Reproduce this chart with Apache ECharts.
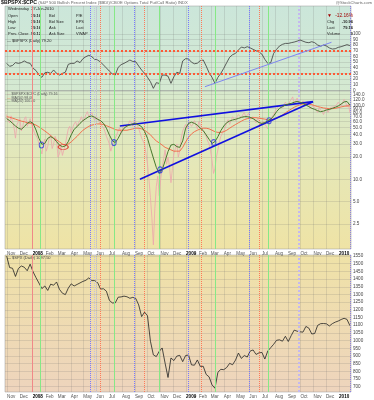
<!DOCTYPE html>
<html><head><meta charset="utf-8">
<script src="https://cdn.jsdelivr.net/npm/echarts@6/dist/echarts.min.js"></script>
<style>html,body{margin:0;padding:0;background:#fff}#c{width:374px;height:400px}</style>
</head><body><div id="c"></div>
<script>
// ---- data (weekly, Wednesdays from 2007-10-31 to 2010-01-27) ----
const firstWeek = '2007-10-31';
const bpspx = [47.7,42.4,44,49,47.7,49,52,49,47.7,39,
 35,27,23,31,32,30,36,30,27,30,
 32,46,47.7,47.7,52,49,56,59.5,62,59.5,
 55,53.6,50,44.8,39.5,34,29,27,40.6,45.4,
 47.7,50.6,53.6,51,50.6,43,35.9,30,23,15.2,
 3.5,13.5,12.3,27,27,25,12.3,24,32,30,
 52,56,55.5,49.7,47,48,52.5,53.6,43,31,
 23,12.3,23,30,39,49,58.5,63,65.4,71.3,
 76.6,75,77.2,75,72.5,70,67.8,64,54.8,47.7,
 48.8,65.4,72.5,78.4,81.3,83,83,84.3,85.4,87,
 89,87,85,84.3,86,84.3,80.2,78,80.2,78.4,
 75,73,73.6,76,77.2,79,80.8,79.2];
// ratio: weekly (Wednesday) readings and the readings half a week later
const ratio = [75,58,68,36,60,45,65,52,66,48,
 40,30,22,35,28,40,30,34,22,21,
 30,48,42,56,52,63,60,75,70,80,
 62,68,55,50,38,30,28,36,45,42,
 55,50,62,52,60,48,36,30,16,5.7,
 1.3,8,6,14,25,20,9,22,30,24,
 45,55,60,52,62,48,55,45,38,30,
 18,14,25,38,45,58,55,70,62,75,
 68,80,72,65,70,58,62,52,58,48,
 66,75,90,100,92,110,98,120,104,125,
 100,115,96,105,85,95,80,88,75,92,
 85,100,90,110,98,120,95,79.16];
const ratioMid = [62,72,50,55,66,52,70,58,55,42,
 36,26,30,24,36,26,38,20,28,25,
 38,52,50,60,58,70,66,82,74,70,
 72,60,58,44,34,24,33,40,50,48,
 58,56,58,64,54,42,34,22,10,3,
 4,11,10,19,16,15,14,26,20,36,
 50,48,58,56,55,60,50,42,33,24,
 12,20,32,42,50,64,62,66,70,72,
 75,70,78,62,64,66,55,60,52,56,
 70,82,95,106,100,104,112,130,114,110,
 108,102,112,90,100,86,92,82,84,80,
 94,95,102,104,108,112,105];
const ma50 = [70,69,67,65,63,61,60,58,57,56,
 54,51,48,45,42,39,36,34,32,30,
 29,30,32,35,38,42,46,49,52,54,
 55,56,56,55,53,51,49,47,46,46,
 46,46,47,48,49,49,48,46,43,40,
 36,33,31,29,27,26,25,24,24,24,
 27,32,37,41,44,46,48,49,49,48,
 46,44,43,43,44,46,49,52,55,58,
 61,64,66,67,68,68,67,66,65,64,
 64,65,67,70,74,79,84,89,94,98,
 102,104,105,104,102,99,96,94,92,91,
 90,90,91,93,95,97,98,98.08];
const ma20 = [66,62,57,52.5,49,47.4,51.4,57,60,57,
 46.4,35.8,29.7,30.6,35.8,37.7,35.8,32.3,29,27.6,
 28.2,32.3,39.8,47.4,51.4,57,62,66,70.2,71.8,
 68.7,64.7,62,57,49,39.8,33.3,31.3,35.8,42.7,
 49,52.5,54.2,56,57,54.2,51.4,44.3,35.8,26.2,
 19.4,14.5,12,13.4,17.7,23.7,29,29.7,27.6,27,
 33,49,57,59,57,54,49,45.5,39.8,34.7,
 30.6,32.3,37.7,45.5,52.5,58.3,61.3,63.3,64.7,66.4,
 68.7,70.2,70.2,68.7,66,62,58.3,57,58.3,62,
 64.7,71.8,82,91,95.8,101,104,106,110,112.7,
 110,106,101,95.8,91,88,84.6,82,83.5,86.4,
 88,91,94,97.8,104,111,112.7,100.4];
const spx = [1549,1475,1470,1417,1469,1485,1477,1454,1497,
 1447,1409,1374,1338,1355,1326,1367,1360,1381,1333,1308,1299,1341,1369,1355,1365,1375,1385,1392,1408,1390,1390,1377,1335,1337,1321,1262,1245,1245,1282,1284,1289,1285,1275,1281,1274,1232,1156,1185,1161,996,907,896,930,952,853,760,887,870,899,904,863,903,
 906,842,840,874,832,833,780,764,712,690,794,813,811,825,852,843,873,919,884,903,893,932,939,910,920,923,880,932,954,976,1002,1005,996,1028,994,1033,1068,1061,1057,1055,1092,1081,1043,1046,1099,1110,1111,1109,1095,1110,1120,1127,
 1137,1145,1138,1097];

const bpTicks = [0,10,20,30,40,50,60,70,80,90,100];
const ratioTicks = [2.5,5,10,20,30,40,50,60,70,80,90,100,120,140];
const spxTicks = [700,750,800,850,900,950,1000,1050,1100,1150,1200,1250,1300,1350,1400,1450,1500,1550];
const monthNames = ['Jan','Feb','Mar','Apr','May','Jun','Jul','Aug','Sep','Oct','Nov','Dec'];

// annotation lines (dates)
const redSolidDates = ['2008-01-01'];
const greenDates = ['2008-01-20','2008-07-13','2008-10-29','2009-03-11','2009-07-16'];
const blueDottedDates = ['2008-05-17','2008-08-30','2009-01-06','2009-05-31'];
const redDottedDates = ['2008-06-10','2008-09-23','2009-02-06','2009-06-24'];
const greyDottedDates = ['2008-05-27','2008-06-01'];
const lilacDates = ['2009-09-28'];
const purpleDates = ['2010-01-27'];
const trendUpper = [['2008-07-27',52.5],['2009-10-31',112]];
const trendLower = [['2008-09-13',10],['2009-10-31',112]];
const trendBp = [['2009-02-15',6.4],['2009-12-14',85]];
const ellipses = [['2008-01-22',29.1,'blue'],['2008-03-14',27.3,'red'],['2008-07-13',31.3,'blue'],
  ['2008-10-31',13.4,'blue'],['2009-03-08',31.3,'blue'],['2009-07-18',61.9,'blue']];

// ---- build ----
const DAY = 864e5;
const d = s => { const [y,m,dd] = s.split('-').map(Number); return Date.UTC(y, m-1, dd); };
const w0 = d(firstWeek);
const weekDates = bpspx.map((_, i) => w0 + i*7*DAY);
const ser = arr => arr.map((v,i) => [weekDates[i], v]);
const ratioSeries = [];
ratio.forEach((v,i) => { ratioSeries.push([weekDates[i], v]); if (i < ratioMid.length) ratioSeries.push([weekDates[i] + 3.5*DAY, ratioMid[i]]); });
const tMin = Date.UTC(2007,9,27), tMax = Date.UTC(2010,0,29,14);
const monthTicks = [];
for (let y=2007, m=10; y<2010 || (y===2010 && m===0); ) { monthTicks.push(Date.UTC(y,m,1)); m++; if (m>11){m=0;y++;} }

const FONT = '"Liberation Sans", Arial, sans-serif';
const vline = (dates, color, type, width) => dates.map(s => ({xAxis: d(s), lineStyle:{color, type, width}}));
const vlines = [].concat(
  vline(redSolidDates,'#f08888','solid',1),
  vline(greenDates,'#86e886','solid',1),
  vline(blueDottedDates,'#7878ff','dotted',1),
  vline(redDottedDates,'#ff7858','dotted',1),
  vline(greyDottedDates,'#c4c4dc','dotted',1),
  vline(lilacDates,'#c4b8f0','dotted',2),
  vline(purpleDates,'#8a80e8','dotted',1)
);
const mlBase = {symbol:['none','none'], silent:true, animation:false, label:{show:false}, emphasis:{disabled:true}};
const seg = p => [{coord:[d(p[0][0]), p[0][1]]}, {coord:[d(p[1][0]), p[1][1]]}];

const xAx = (gi, showLabel) => ({
  type:'value', gridIndex:gi, min:tMin, max:tMax,
  axisLine:{show:false}, axisTick:{show:false, customValues: monthTicks},
  splitLine:{show:true, lineStyle:{color:'rgba(110,110,110,0.18)', width:1}},
  axisLabel:{show:showLabel, customValues: monthTicks, margin:2, align:'left', fontSize:4.6, fontFamily:FONT, color:'#555',
    formatter: v => { const t = new Date(v); const m = t.getUTCMonth(); return m===0 ? '{y|'+t.getUTCFullYear()+'}' : monthNames[m]; },
    rich:{y:{fontWeight:'bold', color:'#000', fontSize:4.6, fontFamily:FONT}}}
});
const yLab = {fontSize:4.6, fontFamily:FONT, color:'#444', margin:2};
const grad = stops => new echarts.graphic.LinearGradient(0,0,0,1, stops.map((c,i)=>({offset:i/(stops.length-1), color:c})));

const txt = (x,y,text,opt={}) => ({type:'text', x, y, silent:true, style:Object.assign({text, font:(opt.bold?'bold ':'')+(opt.size||4)+'px '+FONT, fill:opt.color||'#222', textAlign:opt.align||'left', align:opt.align||'left', textVerticalAlign:'middle', verticalAlign:'middle'}, opt.rich?{rich:opt.rich}:{})});

const option = {
  animation:false,
  backgroundColor:'#fff',
  grid:[
    {left:5, right:23, top:6, height:85, show:true, backgroundColor:grad(['#cbe6da','#d5e9d1']), borderColor:'#999', borderWidth:0.5},
    {left:5, right:23, top:91, height:158, show:true, backgroundColor:grad(['#d7e9cc','#e6e7b6','#efe3a5']), borderColor:'#999', borderWidth:0.5},
    {left:5, right:23, top:255, height:137, show:true, backgroundColor:grad(['#efe2a7','#eed4bd']), borderColor:'#999', borderWidth:0.5}
  ],
  xAxis:[xAx(0,false), xAx(1,true), xAx(2,true)],
  yAxis:[
    {type:'value', gridIndex:0, min:-1.2, max:149.2, position:'right', axisLine:{show:false},
     axisTick:{show:false, customValues:bpTicks}, axisLabel:Object.assign({customValues:bpTicks, formatter:v=>String(v)}, yLab),
     splitLine:{show:true, lineStyle:{color:'rgba(110,110,110,0.18)'}}},
    {type:'log', logBase:10, gridIndex:1, min:1.143, max:156, position:'right', axisLine:{show:false},
     axisTick:{show:false, customValues:ratioTicks}, axisLabel:Object.assign({customValues:ratioTicks, formatter:v=>Number(v).toFixed(1)}, yLab),
     splitLine:{show:true, lineStyle:{color:'rgba(110,110,110,0.18)'}}},
    {type:'value', gridIndex:2, min:665.7, max:1556.5, position:'right', axisLine:{show:false},
     axisTick:{show:false, customValues:spxTicks}, axisLabel:Object.assign({customValues:spxTicks, formatter:v=>String(v)}, yLab),
     splitLine:{show:true, lineStyle:{color:'rgba(110,110,110,0.18)'}}}
  ],
  series:[
    {type:'line', xAxisIndex:0, yAxisIndex:0, data:ser(bpspx), symbol:'none', lineStyle:{opacity:0}, z:1, silent:true,
     markLine:Object.assign({data:vlines.concat([
       {yAxis:70, lineStyle:{color:'#ff5a36', type:'dotted', width:2}},
       {yAxis:30, lineStyle:{color:'#ff5a36', type:'dotted', width:2}}])}, mlBase)},
    {type:'line', xAxisIndex:1, yAxisIndex:1, data:ser(ratio), symbol:'none', lineStyle:{opacity:0}, z:1, silent:true,
     markLine:Object.assign({data:vlines}, mlBase)},
    {type:'line', xAxisIndex:2, yAxisIndex:2, data:ser(spx), symbol:'none', lineStyle:{opacity:0}, z:1, silent:true,
     markLine:Object.assign({data:vlines}, mlBase)},
    {name:'bpspx', type:'line', xAxisIndex:0, yAxisIndex:0, data:ser(bpspx), symbol:'none', z:3,
     lineStyle:{color:'#3a3a3a', width:0.8},
     markLine:Object.assign({data:[seg(trendBp)], lineStyle:{color:'#7f86f0', width:1, type:'solid'}}, mlBase)},
    {name:'ratio', type:'line', xAxisIndex:1, yAxisIndex:1, data:ratioSeries, symbol:'none', z:3,
     lineStyle:{color:'#eea6ac', width:0.8}},
    {name:'ma50', type:'line', xAxisIndex:1, yAxisIndex:1, data:ser(ma50), symbol:'none', z:4,
     lineStyle:{color:'#f2704e', width:1}},
    {name:'ma20', type:'line', xAxisIndex:1, yAxisIndex:1, data:ser(ma20), symbol:'none', z:5,
     lineStyle:{color:'#46782c', width:1},
     markLine:Object.assign({data:[seg(trendUpper), seg(trendLower)], lineStyle:{color:'#1010e0', width:1.6, type:'solid'}}, mlBase)},
    {name:'ellipses', type:'scatter', xAxisIndex:1, yAxisIndex:1, z:6, silent:true, symbol:'circle',
     data: ellipses.map(e => ({value:[d(e[0]), e[1]], symbolSize: e[2]==='red' ? [10,5] : [4.5,6],
       itemStyle:{color:'rgba(0,0,0,0)', borderColor: e[2]==='red' ? '#e02020' : '#2a36e0', borderWidth:1}}))},
    {name:'spx', type:'line', xAxisIndex:2, yAxisIndex:2, data:ser(spx), symbol:'none', z:3,
     lineStyle:{color:'#222', width:0.8}}
  ],
  graphic:[
    txt(1,3,'{b|$BPSPX:$CPC} {n|(S&P 500 Bullish Percent Index ($BDI)/CBOE Options Total Put/Call Ratio) INDX}',
      {rich:{b:{fontWeight:'bold', fontSize:5.2, fontFamily:FONT, fill:'#111'}, n:{fontSize:4.2, fontFamily:FONT, fill:'#666'}}}),
    txt(372,3,'@StockCharts.com',{size:4.2, align:'right', color:'#666'}),
    txt(8,9.3,'Wednesday  27-Jan-2010',{size:4}),
    txt(8,15.5,'Open',{size:4}), txt(8,21.7,'High',{size:4}), txt(8,28,'Low',{size:4}), txt(8,34.3,'Prev. Close',{size:4}),
    txt(41,15.5,'79.16',{size:4,bold:true,align:'right'}), txt(41,21.7,'79.16',{size:4,bold:true,align:'right'}),
    txt(41,28,'79.16',{size:4,bold:true,align:'right'}), txt(41,34.3,'90.12',{size:4,bold:true,align:'right'}),
    txt(49,15.5,'Bid',{size:4}), txt(49,21.7,'Bid Size',{size:4}), txt(49,28,'Ask',{size:4}), txt(49,34.3,'Ask Size',{size:4}),
    txt(76,15.5,'P/E',{size:4}), txt(76,21.7,'EPS',{size:4}), txt(76,28,'Last',{size:4}), txt(76,34.3,'VWAP',{size:4}),
    txt(327,15.5,'▼',{size:5,color:'#a00000'}), txt(353,15.5,'-12.16%',{size:4.8,color:'#a00000',align:'right'}),
    txt(327,21.7,'Chg',{size:4}), txt(353,21.7,'-10.96',{size:4,bold:true,align:'right'}),
    txt(327,28,'Last',{size:4}), txt(353,28,'79.16',{size:4,bold:true,align:'right'}),
    txt(327,34.3,'Volume',{size:4}), txt(353,34.3,'0',{size:4,bold:true,align:'right'}),
    txt(7,40.8,'{d|—} $BPSPX (Daily) 79.20',{size:4,rich:{d:{fill:'#333',fontSize:4,fontFamily:FONT}}}),
    txt(7,94,'{d|—} $BPSPX:$CPC (Daily) 79.16',{size:3.6,color:'#555',rich:{d:{fill:'#eea6ac',fontSize:3.6,fontFamily:FONT}}}),
    txt(7,97.6,'{d|—} MA(50) 98.08',{size:3.6,color:'#555',rich:{d:{fill:'#f2704e',fontSize:3.6,fontFamily:FONT}}}),
    txt(7,101.2,'{d|—} MA(20) 100.40',{size:3.6,color:'#555',rich:{d:{fill:'#46782c',fontSize:3.6,fontFamily:FONT}}}),
    txt(7,257.5,'{d|—} $SPX (Daily) 1097.50',{size:4,color:'#444',rich:{d:{fill:'#222',fontSize:4,fontFamily:FONT}}})
  ]
};
const chart = echarts.init(document.getElementById('c'), null, {renderer:'canvas'});
chart.setOption(option);
</script></body></html>
